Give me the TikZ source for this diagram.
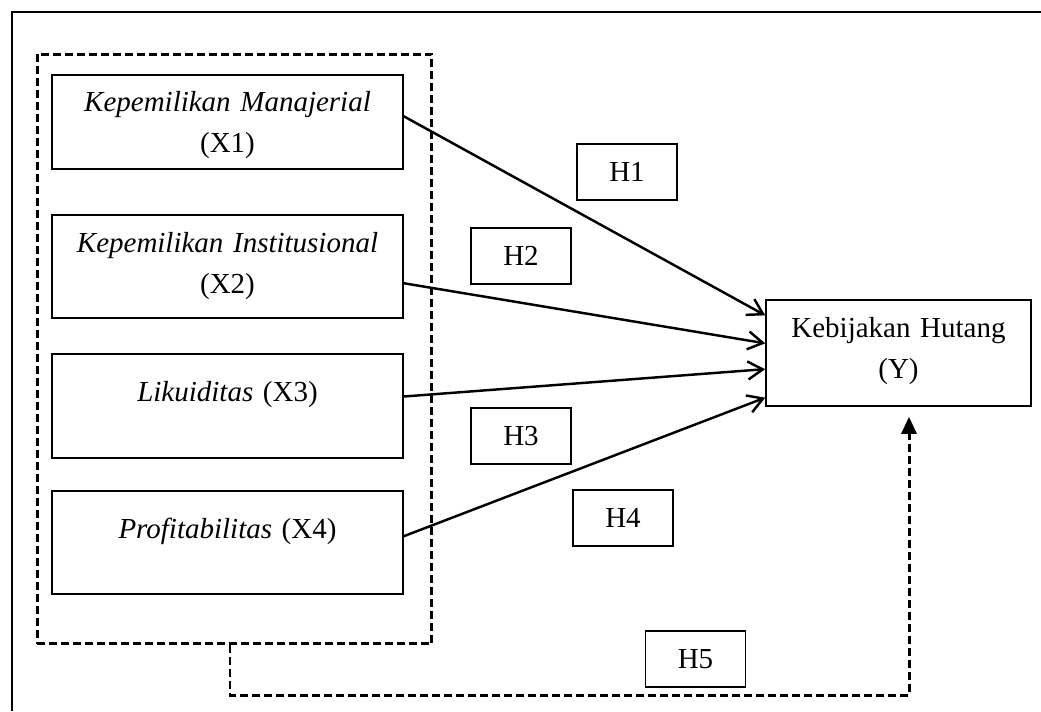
\documentclass[tikz,border=0pt]{standalone}
\usepackage{fontspec}
\setmainfont{Liberation Serif}
\usetikzlibrary{arrows.meta,calc}

\begin{document}
\begin{tikzpicture}[x=0.02cm, y=-0.02cm,
	every node/.style = {font=\fontsize{16.5}{23.8}\selectfont},
	xbox/.style = {draw = black, line width=.9pt, text width=7.02cm, align=center, inner sep=0pt},
	ybox/.style = {xbox, text width=5.3cm, text height=.74cm, text depth=1.38cm},
	hbox/.style = {draw = black, line width=.9pt, minimum width=2cm, minimum height=1.12cm, inner sep=0pt},
	link/.style = {-{Straight Barb[length=3mm, width=3.6mm]}, line width=1.4pt},
	dashline/.style = {line width=1.7pt, dash pattern=on .16cm off .08cm}]
	\useasboundingbox (0, 0) rectangle (1041, 711);
	
	% frame
	\draw [line width=1.4pt] (12, 711) -- (12, 12) -- (1041, 12);
	
	% group
	\node [dashline, draw = black, minimum width=7.9cm, minimum height=11.8cm, inner sep=0pt] (grp) at (234.5, 349) {};
	
	% variables
	\node [xbox, text height=.72cm, text depth=1.16cm] (x1) at (227.5, 122) {\textit{Kepemilikan Manajerial}\\(X1)};
	\node [xbox, text height=.74cm, text depth=1.32cm] (x2) at (227.5, 266.5) {\textit{Kepemilikan Institusional}\\(X2)};
	\node [xbox, text height=.94cm, text depth=1.14cm] (x3) at (227.5, 406) {\textit{Likuiditas} (X3)};
	\node [xbox, text height=.94cm, text depth=1.12cm] (x4) at (227.5, 542.5) {\textit{Profitabilitas} (X4)};
	\node [ybox] (y) at (898.5, 353) {Kebijakan Hutang\\(Y)};
	
	% hypotheses
	\node [hbox] (h1) at (627, 172) {H1};
	\node [hbox] (h2) at (521, 256) {H2};
	\node [hbox] (h3) at (521, 436) {H3};
	\node [hbox] (h4) at (623, 518) {H4};
	\node [hbox] (h5) at (695.5, 659) {H5};
	
	% lines
	\draw [link] ($(x1.north east)!.44!(x1.south east)$) -- ($(y.north west)!.15!(y.south west)$);
	\draw [link] ($(x2.north east)!.66!(x2.south east)$) -- ($(y.north west)!.41!(y.south west)$);
	\draw [link] ($(x3.north east)!.41!(x3.south east)$) -- ($(y.north west)!.65!(y.south west)$);
	\draw [link] ($(x4.north east)!.44!(x4.south east)$) -- ($(y.north west)!.915!(y.south west)$);
	
	% simultan
	\coordinate (turn) at (230, 695);
	\draw [dashline, -{Triangle[length=.34cm, width=.3cm]}, shorten >=.2cm] (grp.south -| turn) -- (turn) -| ([xshift=.21cm]y.south);
\end{tikzpicture}
\end{document}
